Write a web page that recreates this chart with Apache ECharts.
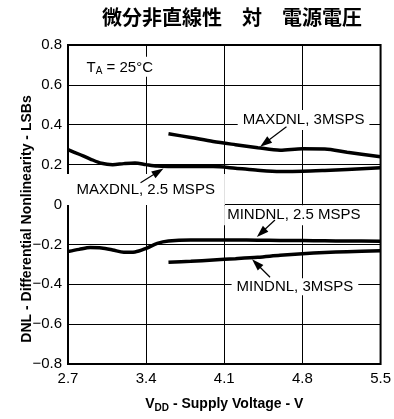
<!DOCTYPE html>
<html>
<head>
<meta charset="utf-8">
<script src="https://cdn.jsdelivr.net/npm/echarts@6/dist/echarts.min.js"></script>
<style>
  html, body { margin: 0; padding: 0; background: #fff; }
  #chart { width: 394px; height: 419px; }
</style>
</head>
<body>
<div id="chart"></div>
<script>
// Chart text
const chartTitle = '微分非直線性　対　電源電圧';
const xTickLabels = ['2.7', '3.4', '4.1', '4.8', '5.5'];
const yTickLabels = ['−0.8', '−0.6', '−0.4', '−0.2', '0', '0.2', '0.4', '0.6', '0.8'];

// Supply voltage (V) sample points
const vdd25 = [2.7, 2.8, 2.9, 3.0, 3.1, 3.2, 3.3, 3.4, 3.5, 3.6, 3.8, 4.0, 4.2, 4.4, 4.6, 4.8, 5.0, 5.2, 5.5];
const vdd3 = [3.6, 3.8, 4.0, 4.2, 4.4, 4.6, 4.8, 5.0, 5.2, 5.5];

// DNL (LSBs)
const maxDnl25 = [0.275, 0.252, 0.228, 0.207, 0.200, 0.205, 0.208, 0.200, 0.193, 0.191, 0.190, 0.190, 0.182, 0.172, 0.166, 0.167, 0.171, 0.176, 0.184];
const minDnl25 = [-0.236, -0.225, -0.216, -0.218, -0.228, -0.240, -0.238, -0.220, -0.195, -0.183, -0.178, -0.178, -0.178, -0.179, -0.180, -0.181, -0.182, -0.183, -0.184];
const maxDnl3 = [0.355, 0.336, 0.316, 0.300, 0.285, 0.272, 0.279, 0.278, 0.262, 0.240];
const minDnl3 = [-0.290, -0.285, -0.278, -0.272, -0.265, -0.255, -0.247, -0.241, -0.237, -0.232];

// The voltage axis starts at 2.7 V; values are plotted as offsets from it
// so that the 0.7 V tick interval lines up with the axis start.
const V0 = 2.7;
const V_SPAN = 2.8;
const V_STEP = 0.7;

const FONT = '"Liberation Sans", Arial, Helvetica, sans-serif';

function pairs(xs, ys) {
  return xs.map((v, i) => [+(v - V0).toFixed(4), ys[i]]);
}

// Curve callouts: text, anchor (V, LSB), padding [top, right, bottom, left]
const callouts = [
  { text: 'MAXDNL, 3MSPS', at: [4.81, 0.424], pad: [3, 5, 2, 5] },
  { text: 'MAXDNL, 2.5 MSPS', at: [3.396, 0.0752], pad: [11, 10, 5, 10] },
  { text: 'MINDNL, 2.5 MSPS', at: [4.723, -0.054], pad: [1, 3, 4, 3] },
  { text: 'MINDNL, 3MSPS', at: [4.733, -0.412], pad: [1, 5, 1, 5] }
];
// Leader arrows: from (V, LSB) to (V, LSB)
const leaders = [
  [[4.657, 0.390], [4.464, 0.308]],
  [[3.350, 0.109], [3.510, 0.165]],
  [[4.554, -0.078], [4.431, -0.142]],
  [[4.510, -0.365], [4.387, -0.296]]
];

function lineSeries(name, xs, ys) {
  return {
    name: name,
    type: 'line',
    data: pairs(xs, ys),
    symbol: 'none',
    smooth: 0.3,
    z: 3,
    lineStyle: { color: '#000', width: 3.5 },
    emphasis: { disabled: true }
  };
}

const labelPoints = callouts.map(c => ({
  coord: [+(c.at[0] - V0).toFixed(4), c.at[1]],
  symbol: 'rect',
  symbolSize: 1,
  itemStyle: { color: 'rgba(0,0,0,0)' },
  label: {
    show: true,
    position: 'inside',
    formatter: c.text,
    color: '#000',
    fontSize: 15,
    lineHeight: 15,
    fontFamily: FONT,
    backgroundColor: '#fff',
    padding: c.pad
  }
}));

labelPoints.push({
  coord: [+(3.164 - V0).toFixed(4), 0.691],
  symbol: 'rect',
  symbolSize: 1,
  itemStyle: { color: 'rgba(0,0,0,0)' },
  label: {
    show: true,
    position: 'inside',
    formatter: 'T{a|A} = 25°C',
    color: '#000',
    fontSize: 15,
    fontFamily: FONT,
    backgroundColor: '#fff',
    padding: [2, 2, 0, 2],
    rich: {
      a: { fontSize: 10, fontFamily: FONT, color: '#000', padding: [8, 0, 0, 0] }
    }
  }
});

const leaderLines = leaders.map(l => [
  { coord: [+(l[0][0] - V0).toFixed(4), l[0][1]] },
  { coord: [+(l[1][0] - V0).toFixed(4), l[1][1]] }
]);

const chart = echarts.init(document.getElementById('chart'), null, { renderer: 'canvas' });

chart.setOption({
  animation: false,
  backgroundColor: '#fff',
  title: {
    text: chartTitle,
    left: 227,
    top: 2,
    textAlign: 'center',
    textStyle: {
      fontFamily: '"Noto Sans CJK JP", "Noto Sans CJK SC", sans-serif',
      fontSize: 20,
      fontWeight: 'bold',
      color: '#000'
    }
  },
  grid: {
    left: 68, right: 8, top: 45, bottom: 55,
    show: true,
    borderColor: '#000',
    borderWidth: 2,
    backgroundColor: 'rgba(0,0,0,0)'
  },
  xAxis: {
    type: 'value',
    min: 0,
    max: V_SPAN,
    interval: V_STEP,
    axisLine: { show: false },
    axisTick: { show: false },
    splitLine: { show: true, lineStyle: { color: '#000', width: 1 } },
    axisLabel: {
      margin: 7,
      color: '#000',
      fontSize: 15,
      fontFamily: FONT,
      formatter: (v, i) => xTickLabels[i]
    },
    name: 'V{s|DD} - Supply Voltage - V',
    nameLocation: 'middle',
    nameGap: 31,
    nameTextStyle: {
      color: '#000',
      fontSize: 14,
      fontWeight: 'bold',
      fontFamily: FONT,
      rich: {
        s: { fontSize: 10, fontWeight: 'bold', fontFamily: FONT, color: '#000', padding: [8, 0, 0, 0] }
      }
    }
  },
  yAxis: {
    type: 'value',
    min: -0.8,
    max: 0.8,
    interval: 0.2,
    axisLine: { show: false },
    axisTick: { show: false },
    splitLine: { show: true, lineStyle: { color: '#000', width: 1 } },
    axisLabel: {
      margin: 6,
      color: '#000',
      fontSize: 15,
      fontFamily: FONT,
      formatter: (v, i) => yTickLabels[i]
    }
  },
  graphic: [{
    type: 'text',
    x: 27.5,
    y: 219,
    rotation: Math.PI / 2,
    style: {
      text: 'DNL - Differential Nonlinearity - LSBs',
      fill: '#000',
      font: 'bold 14px ' + FONT,
      align: 'center',
      verticalAlign: 'middle'
    }
  }],
  series: [
    lineSeries('MAXDNL, 2.5 MSPS', vdd25, maxDnl25),
    lineSeries('MINDNL, 2.5 MSPS', vdd25, minDnl25),
    Object.assign(lineSeries('MAXDNL, 3MSPS', vdd3, maxDnl3), {
      markPoint: { silent: true, z: 5, animation: false, data: labelPoints }
    }),
    Object.assign(lineSeries('MINDNL, 3MSPS', vdd3, minDnl3), {
      markLine: {
        silent: true,
        z: 6,
        animation: false,
        symbol: ['none', 'triangle'],
        symbolSize: [8, 12],
        lineStyle: { color: '#000', width: 1.2, type: 'solid' },
        label: { show: false },
        emphasis: { disabled: true },
        data: leaderLines
      }
    })
  ]
});
</script>
</body>
</html>
